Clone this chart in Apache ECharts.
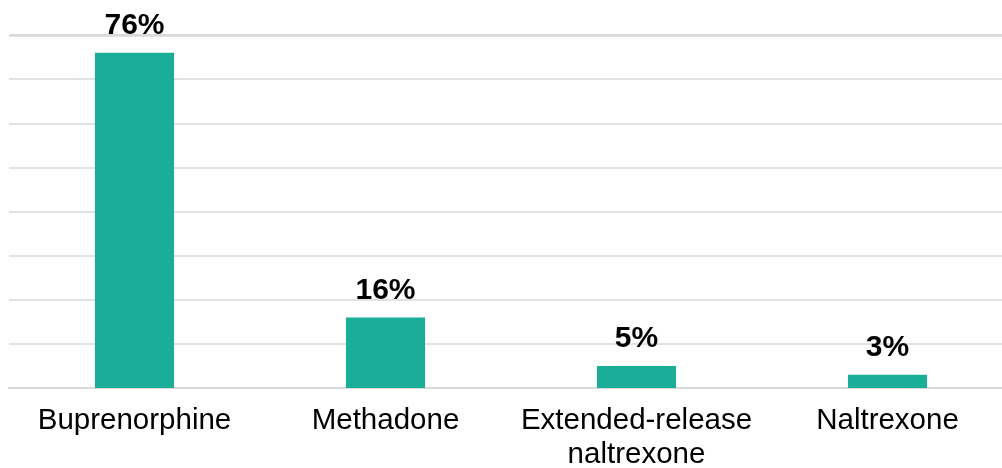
<!DOCTYPE html>
<html>
<head>
<meta charset="utf-8">
<script src="https://cdn.jsdelivr.net/npm/echarts@6/dist/echarts.min.js"></script>
<style>
  html, body { margin: 0; padding: 0; background: #fff; }
  #chart { width: 1002px; height: 468px; }
</style>
</head>
<body>
<div id="chart"></div>
<script>
// Medication share among treatment types
const categories = ['Buprenorphine', 'Methadone', 'Extended-release\nnaltrexone', 'Naltrexone'];
const shares = [76, 16, 5, 3];
const yTicks = [0, 10, 20, 30, 40, 50, 60, 70, 80];
const yMax = yTicks[yTicks.length - 1];

const chart = echarts.init(document.getElementById('chart'));
chart.setOption({
  animation: false,
  grid: {
    left: 9, width: 1004, top: 35, bottom: 80,
    containLabel: false, outerBoundsMode: 'none'
  },
  xAxis: {
    type: 'category',
    data: categories,
    axisLine: { lineStyle: { color: '#d9d9d9', width: 2 } },
    axisTick: { show: false },
    axisLabel: {
      interval: 0,
      margin: 16,
      color: '#000',
      fontFamily: 'Liberation Sans, Arial, sans-serif',
      fontSize: 29.5,
      lineHeight: 34
    }
  },
  yAxis: {
    type: 'value',
    min: yTicks[0],
    max: yMax,
    interval: 10,
    axisLabel: { show: false },
    axisLine: { show: false },
    axisTick: { show: false },
    splitLine: { lineStyle: { color: '#d9d9d9', width: 1.5 } }
  },
  series: [{
    type: 'bar',
    data: shares,
    barWidth: '31.5%',
    itemStyle: { color: '#1aae98' },
    label: {
      show: true,
      position: 'top',
      distance: 12,
      formatter: '{c}%',
      color: '#000',
      fontWeight: 'bold',
      fontFamily: 'Liberation Sans, Arial, sans-serif',
      fontSize: 30
    },
    // heavier rule along the top of the plot
    markLine: {
      silent: true,
      symbol: 'none',
      label: { show: false },
      lineStyle: { color: '#d9d9d9', width: 2.5, type: 'solid' },
      data: [{ yAxis: yMax }]
    }
  }]
});
</script>
</body>
</html>
